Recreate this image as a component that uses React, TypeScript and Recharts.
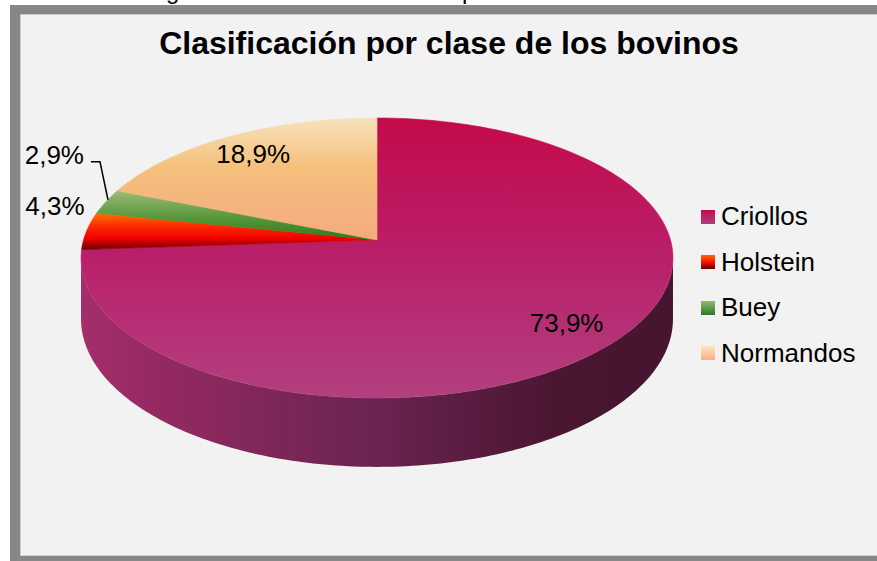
import React from 'react';
import { PieChart, Pie, Legend } from 'recharts';

// ---- data ----
const categories = ['Criollos', 'Holstein', 'Buey', 'Normandos'];
const shares = [73.9, 4.3, 2.9, 18.9];
const chartTitle = 'Clasificación por clase de los bovinos';

// ---- styles ----
const FONT = '"Liberation Sans", Arial, Helvetica, sans-serif';
const topGradients: string[][][] = [
  [['0', '#c40a4a'], ['0.5', '#b9206a'], ['1', '#b2407f']],
  [['0', '#ff7400'], ['0.35', '#ff2a00'], ['0.7', '#ee0000'], ['1', '#6e0000']],
  [['0', '#9cbc78'], ['0.5', '#5c9a3e'], ['1', '#2a7a1a']],
  [['0', '#f8e2bc'], ['0.4', '#f5c07c'], ['1', '#f4aa7e']],
];
const sideGradients: string[][][] = [
  [['0', '#a52e6b'], ['0.12', '#952a62'], ['0.5', '#6a2450'], ['0.8', '#4a1632'], ['1', '#461530']],
  [['0', '#8b0000'], ['1', '#600000']],
  [['0', '#3a6a20'], ['1', '#2a5a18']],
  [['0', '#d08a5a'], ['1', '#b07040']],
];
const legendSwatches = [
  'linear-gradient(#c30b4b, #b13e80)',
  'linear-gradient(#ff6a00, #ff1000 50%, #6b0000)',
  'linear-gradient(#96b874, #2c7a1e)',
  'linear-gradient(#fde6c4, #fbb07e)',
];

// ---- geometry of the tilted pie ----
const PIE_CX = 377;
const PIE_CY = 240;
const PIE_R = 137.7; // vertical radius
const X_STRETCH = 2.1315; // horizontal / vertical radius
const PERSP = 0.1287;
const DEPTH = 60;
const SILHOUETTE = (Math.asin(PERSP) * 180) / Math.PI;

const data = categories.map((name, i) => ({ name, value: shares[i] }));

function project(cx: number, cy: number, R: number, r: number, deg: number, drop = 0): [number, number] {
  const t = (deg * Math.PI) / 180;
  const u = r * Math.cos(t);
  const v = -r * Math.sin(t);
  const k = 1 / (1 - PERSP * v);
  return [cx + R * X_STRETCH * u * k, cy + (R * v + drop) * k];
}

function rim(cx: number, cy: number, R: number, a0: number, a1: number, drop: number) {
  const n = Math.max(2, Math.ceil(Math.abs(a1 - a0)));
  const pts: [number, number][] = [];
  for (let i = 0; i <= n; i++) {
    pts.push(project(cx, cy, R, 1, a0 + ((a1 - a0) * i) / n, drop));
  }
  return pts;
}

function sliceIndex(p: any): number {
  if (typeof p.index === 'number') return p.index;
  const nm = p.name ?? p.payload?.name;
  return Math.max(0, categories.indexOf(nm));
}

function gradient(id: string, stops: string[][], vertical: boolean, user?: [number, number]) {
  const attrs: any = vertical
    ? { x1: 0, y1: 0, x2: 0, y2: 1 }
    : user
    ? { x1: user[0], y1: 0, x2: user[1], y2: 0, gradientUnits: 'userSpaceOnUse' }
    : { x1: 0, y1: 0, x2: 1, y2: 0 };
  return (
    <linearGradient id={id} {...attrs}>
      {stops.map(([o, c]) => (
        <stop key={o} offset={o} stopColor={c} />
      ))}
    </linearGradient>
  );
}

function SideShape(p: any) {
  const i = sliceIndex(p);
  const { cx, cy, outerRadius: R, startAngle, endAngle } = p;
  const lo = Math.min(startAngle, endAngle);
  const hi = Math.max(startAngle, endAngle);
  const paths: string[] = [];
  for (const off of [-720, -360, 0, 360]) {
    const a = Math.max(lo, -180 + SILHOUETTE + off);
    const b = Math.min(hi, -SILHOUETTE + off);
    if (b > a) {
      const top = rim(cx, cy, R, a, b, 0);
      const bot = rim(cx, cy, R, b, a, DEPTH);
      const pts = [...top, ...bot];
      paths.push('M' + pts.map((q) => q[0].toFixed(2) + ',' + q[1].toFixed(2)).join('L') + 'Z');
    }
  }
  if (!paths.length) return <g />;
  const id = 'side-grad-' + i;
  const W = R * X_STRETCH * 1.01;
  return (
    <g>
      <defs>{gradient(id, sideGradients[i], false, [cx - W, cx + W])}</defs>
      {paths.map((d, j) => (
        <path key={j} d={d} fill={`url(#${id})`} stroke="none" />
      ))}
    </g>
  );
}

function TopShape(p: any) {
  const i = sliceIndex(p);
  const { cx, cy, outerRadius: R, startAngle, endAngle } = p;
  const pts = rim(cx, cy, R, startAngle, endAngle, 0);
  const d =
    `M${cx},${cy}L` + pts.map((q) => q[0].toFixed(2) + ',' + q[1].toFixed(2)).join('L') + 'Z';
  const id = 'top-grad-' + i;
  return (
    <g>
      <defs>{gradient(id, topGradients[i], true)}</defs>
      <path d={d} fill={`url(#${id})`} stroke={`url(#${id})`} strokeWidth={0.6} />
    </g>
  );
}

// label placement rules (relative to the projected slice edge)
const outsideLabels: Record<number, { dx: number; dy: number; leader: boolean }> = {
  1: { dx: -2, dy: -16, leader: false },
  2: { dx: -22, dy: -38, leader: true },
};

function renderLabel(p: any) {
  const i = sliceIndex(p);
  const { cx, cy, outerRadius: R, midAngle } = p;
  const text = shares[i].toFixed(1).replace('.', ',') + '%';
  const rule = outsideLabels[i];
  if (rule) {
    const [ex, ey] = project(cx, cy, R, 1, midAngle, 0);
    const tx = ex + rule.dx;
    const ty = ey + rule.dy;
    return (
      <g key={'lbl' + i}>
        {rule.leader && (
          <polyline
            points={`${ex + 2},${ey - 2} ${tx + 16},${ty - 2} ${tx + 7},${ty - 2}`}
            fill="none"
            stroke="#000"
            strokeWidth={1.5}
          />
        )}
        <text x={tx} y={ty} textAnchor="end" fontSize={26} fontFamily={FONT} fill="#000">
          {text}
        </text>
      </g>
    );
  }
  const [lx, ly] = project(cx, cy, R, 0.82, midAngle, 0);
  return (
    <text key={'lbl' + i} x={lx} y={ly + 9} textAnchor="middle" fontSize={26} fontFamily={FONT} fill="#000">
      {text}
    </text>
  );
}

function LegendContent() {
  return (
    <div style={{ fontFamily: FONT, fontSize: 26, color: '#000' }}>
      {categories.map((c, i) => (
        <div key={c} style={{ display: 'flex', alignItems: 'center', height: 45.5, lineHeight: '45.5px' }}>
          <div style={{ width: 14, height: 14, background: legendSwatches[i], marginRight: 6 }} />
          <span style={{ whiteSpace: 'nowrap' }}>{c}</span>
        </div>
      ))}
    </div>
  );
}

export default function App() {
  return (
    <div style={{ position: 'absolute', left: 0, top: 0, width: 877, height: 561, overflow: 'hidden', background: '#ffffff' }}>
      <div
        style={{
          position: 'absolute',
          left: 10,
          top: 5,
          width: 900,
          height: 561,
          boxSizing: 'border-box',
          borderTop: '9px solid #878787',
          borderLeft: '10px solid #878787',
          borderBottom: '10px solid #878787',
          borderRight: '10px solid #878787',
          background: '#f2f2f2',
          boxShadow: 'inset 1px 1px 0 #c8c8c8, inset 0 -1px 0 #d4d4d4',
        }}
      />
      <svg width={877} height={561} style={{ position: 'absolute', left: 0, top: 0 }}>
        <text x={166} y={-1} fontSize={24} fontFamily={FONT} fill="#000">g</text>
        <text x={462} y={-1} fontSize={24} fontFamily={FONT} fill="#000">p</text>
        <text x={449} y={54} textAnchor="middle" fontSize={32} fontWeight="bold" fontFamily={FONT} fill="#000">
          {chartTitle}
        </text>
      </svg>
      <div style={{ position: 'absolute', left: 0, top: 0 }}>
        <PieChart width={877} height={561} margin={{ top: 0, right: 0, bottom: 0, left: 0 }}>
          <Pie
            data={data}
            dataKey="value"
            nameKey="name"
            cx={PIE_CX}
            cy={PIE_CY}
            outerRadius={PIE_R}
            startAngle={90}
            endAngle={-270}
            isAnimationActive={false}
            stroke="none"
            fill="none"
            shape={SideShape}
            inactiveShape={SideShape}
            activeShape={SideShape}
            label={false}
            labelLine={false}
            legendType="none"
          />
          <Pie
            data={data}
            dataKey="value"
            nameKey="name"
            cx={PIE_CX}
            cy={PIE_CY}
            outerRadius={PIE_R}
            startAngle={90}
            endAngle={-270}
            isAnimationActive={false}
            stroke="none"
            fill="none"
            shape={TopShape}
            inactiveShape={TopShape}
            activeShape={TopShape}
            label={renderLabel}
            labelLine={false}
          />
          <Legend
            layout="vertical"
            content={<LegendContent />}
            wrapperStyle={{ left: 701, top: 194, width: 170, bottom: 'auto', right: 'auto' }}
          />
        </PieChart>
      </div>
    </div>
  );
}
